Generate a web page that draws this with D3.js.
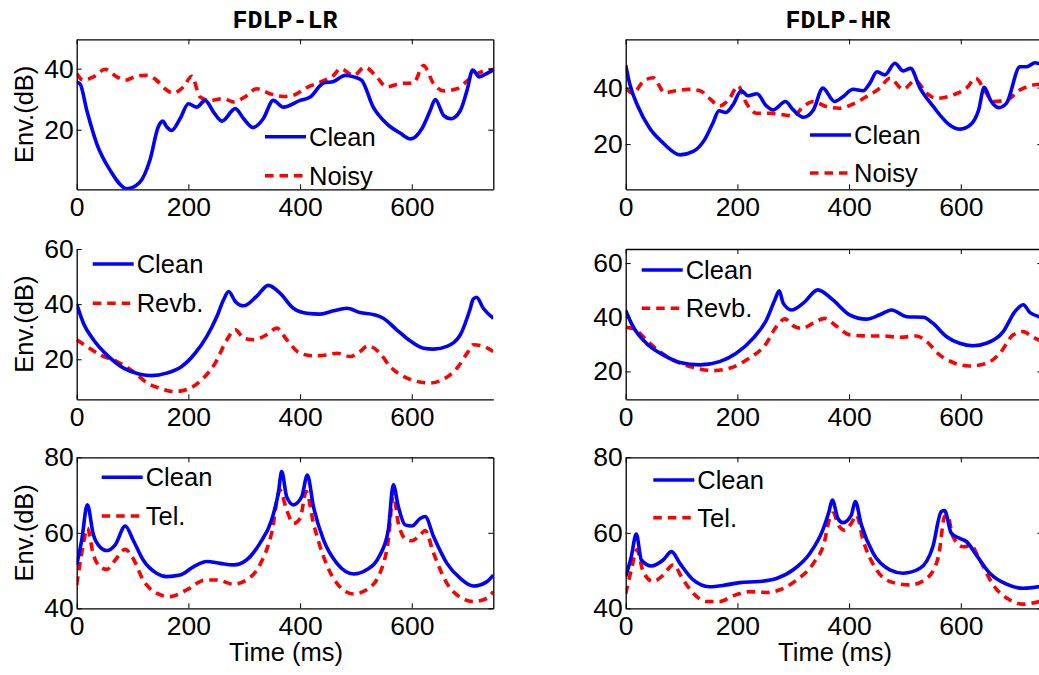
<!DOCTYPE html>
<html lang="en">
<head>
<meta charset="UTF-8">
<title>FDLP envelopes</title>
<style>
  body { margin: 0; background: #fff; }
  svg { display: block; }
  text { font-family: Arial, "Liberation Sans", sans-serif; font-size: 25.5px; fill: #000; }
  text.title { font-family: "Courier New", "Liberation Mono", monospace; font-weight: bold; font-size: 25px; }
</style>
</head>
<body>
<svg id="chart" width="1039" height="675"></svg>
<script src="https://cdn.jsdelivr.net/npm/d3@7"></script>
<script>
// ---- data: [time (ms), envelope (dB)] ----
const xTicks = [0, 200, 400, 600];
const seriesNames = ["Clean", "Noisy", "Revb.", "Tel."];

const lrNoiseClean = [[0,35.6],[6,35],[18,26.4],[36,15.4],[60,6.7],[90,0.7],[113,2.8],[131,10],[146,20.9],[154,22.8],[161,21],[170,19.8],[185,23.6],[200,28.5],[215,27.4],[230,29.6],[245,25.8],[260,22.8],[284,26.9],[299,23.6],[316,20.7],[334,23.6],[352,29.6],[370,27.4],[400,29.6],[418,30.7],[442,35.3],[460,35.8],[481,37.8],[496,37.3],[510,36.2],[531,27.4],[555,22],[579,18.9],[598,17],[618,20.3],[633,26.3],[642,29.9],[657,24.7],[670,23.6],[687,26.3],[699,32.9],[709,39.5],[721,37.3],[734,38.4],[746,39.5]];
const lrNoiseNoisy = [[0,38.4],[12,36.2],[30,37.3],[51,39.8],[72,37.3],[87,36.2],[107,37.5],[125,37.8],[143,36.2],[158,33.4],[173,32],[191,34],[206,37.5],[221,30.7],[239,29.6],[263,30.2],[281,29.1],[301,30.7],[322,33.4],[346,31.8],[370,30.9],[388,31.3],[412,33.8],[436,35.6],[460,37.8],[472,40],[496,37.8],[516,40.5],[537,37.3],[555,34],[579,35.1],[603,35.3],[621,41],[639,35.1],[657,32.7],[681,33.4],[704,36.7],[728,39.2],[746,39.7]];

const hrNoiseClean = [[0,48],[7,41.5],[22,33.3],[43,25.6],[67,20.4],[97,16.2],[121,17.4],[141,21.5],[156,27.4],[167,31.8],[179,31.2],[192,33.9],[207,38.9],[219,37.1],[235,37.8],[252,33.5],[264,32.1],[286,35.1],[300,32.1],[318,29.5],[336,32.1],[353,39.8],[374,35.1],[389,36.8],[407,39.4],[425,38.9],[437,41.5],[450,45.6],[464,44.5],[482,48.6],[497,45.9],[510,46.8],[527,39.8],[550,33.5],[580,26.8],[599,25.3],[617,26.8],[632,32.1],[642,40.1],[653,35.6],[668,32.9],[682,34.5],[706,47.4],[718,47.4],[733,48.8],[746,48]];
const hrNoiseNoisy = [[0,39.8],[13,38],[31,42.1],[49,43.5],[70,38.2],[91,38.9],[112,39.4],[133,38.9],[150,36.2],[168,33.5],[186,36.2],[201,40.6],[216,34.5],[234,30.9],[258,30.9],[282,30.4],[300,30],[318,33.3],[336,35.1],[359,33.3],[383,32.7],[407,34.2],[431,36.8],[455,39.8],[473,43.3],[497,39.4],[518,42.5],[539,38],[556,36.2],[586,37.4],[610,39.8],[627,43.3],[643,38.9],[658,35.1],[682,35.6],[706,39.2],[730,40.9],[746,41.3]];

const lrRevbClean = [[0,40],[12,33.1],[30,27.1],[54,21.6],[84,16.8],[113,14.6],[134,14.1],[161,15],[188,17.4],[212,22.2],[233,28.3],[251,35.5],[263,41.6],[272,44.6],[284,41],[299,39.4],[322,42.8],[343,46.8],[364,44],[388,38.5],[412,36.7],[436,36.4],[460,37.6],[484,38.5],[507,37],[534,36.1],[549,34.9],[573,30.7],[597,26.7],[621,24],[639,23.7],[663,24.7],[687,28.9],[704,37.9],[710,41.8],[716,42.5],[728,38.5],[746,34.9]];
const lrRevbRevb = [[0,27.1],[18,24.7],[42,21.6],[72,19.2],[101,15.6],[125,11.6],[149,9.5],[176,8.3],[203,9.5],[227,13.2],[248,18.6],[269,27.1],[284,30.7],[299,27.7],[316,27.1],[340,28.9],[358,31.3],[376,27.1],[400,22.2],[424,21.3],[448,21.6],[466,22.2],[490,21],[507,22.8],[522,24.9],[543,22.2],[561,17.4],[585,13.8],[609,12],[633,11.4],[657,12.8],[681,16.8],[701,22.8],[710,25.3],[728,24.7],[746,22.8]];

const hrRevbClean = [[0,42.5],[13,36.6],[37,30.4],[67,26.1],[97,23.3],[133,22.4],[168,23.6],[198,26.7],[228,32.2],[252,39],[267,46.4],[275,49.8],[282,45.2],[297,42.7],[318,45.2],[344,50.1],[371,46.4],[401,40.9],[431,39.3],[455,40.9],[476,42.7],[503,40.2],[533,40],[550,37.8],[574,32.9],[598,30.4],[622,29.5],[646,30.4],[676,34.7],[697,42.1],[712,44.6],[724,41.7],[746,40]];
const hrRevbRevb = [[0,36.3],[16,35.6],[37,31.6],[61,27.3],[91,23.6],[127,21.2],[156,20.3],[186,21.2],[216,24.2],[252,30.4],[270,36.6],[285,39.4],[300,36.8],[315,35.9],[336,37.8],[356,39.6],[377,36.8],[401,33.5],[431,33.1],[461,33.1],[491,32.6],[521,33.1],[539,31],[562,26.1],[586,23.3],[616,22],[646,23],[670,26.7],[694,33.5],[712,34.7],[727,32.9],[746,31]];

const lrTelClean = [[0,51.5],[9,58.1],[19,67.4],[30,59.4],[42,56.2],[54,55.3],[69,56.8],[87,61.8],[101,58.1],[119,52.8],[143,49.3],[161,48.4],[185,48.8],[209,51],[233,52.4],[257,51.9],[281,51.5],[304,52.8],[328,57.2],[349,63.4],[361,70.5],[367,76.2],[376,69.6],[388,67.4],[403,69.6],[413,75.3],[424,66.9],[442,58.1],[466,51.9],[496,49.1],[519,50.2],[543,54.1],[558,60.8],[567,72.7],[576,66.9],[588,62.1],[600,61.8],[615,63.8],[624,64.3],[639,59],[663,51.9],[687,47.9],[710,45.9],[734,47],[746,48.8]];
const lrTelTel = [[0,46.2],[11,56.3],[19,61.2],[30,54.1],[42,51],[54,50.3],[69,52.8],[87,55.6],[101,53.2],[119,47.5],[143,44],[167,43.1],[197,44.9],[230,47.5],[251,47.5],[281,46.4],[304,47.5],[328,51.5],[349,59.9],[364,71.3],[376,66],[388,62.5],[400,63.8],[411,70.9],[424,62.5],[442,53.7],[466,46.6],[496,43.8],[519,44.9],[543,49.3],[558,58.1],[567,70],[576,62.5],[588,58.5],[600,57.9],[615,59.4],[624,60.6],[639,54.6],[663,46.6],[687,42.9],[710,41.8],[734,42.6],[746,44.4]];

const hrTelClean = [[0,48.4],[10,53.7],[19,59.7],[28,52.8],[46,51.2],[67,52.8],[82,55],[97,51.9],[121,47.5],[150,45.7],[180,46.2],[204,46.8],[240,47.1],[270,47.9],[300,50.2],[330,54.6],[353,60.8],[364,65.6],[370,68.7],[380,63.8],[389,62.7],[404,64.7],[411,68.3],[422,62.1],[443,54.6],[473,50.2],[497,49.3],[527,50.6],[550,56.3],[565,65.6],[571,65.9],[583,59.9],[598,58.5],[610,57.7],[628,54.1],[652,49.3],[682,46.4],[712,45.3],[746,45.9]];
const hrTelTel = [[0,43.8],[10,50.2],[20,55.5],[31,49.8],[49,47.1],[67,48.8],[85,51.5],[103,47.5],[121,44],[144,41.8],[168,41.8],[192,43.3],[222,44.4],[252,44.2],[276,44.9],[306,47.5],[336,51.9],[356,57.7],[365,63.8],[371,65.2],[383,61.6],[392,60.7],[404,62.5],[413,64.7],[425,58.1],[449,50.2],[479,46.8],[509,46.2],[539,47.9],[560,53.7],[571,64.3],[576,64.7],[586,59],[604,56.3],[619,56.5],[634,52.8],[658,46.2],[688,42.2],[712,41.1],[746,42]];

// ---- layout ----
const svg = d3.select("#chart");
const plotW = 416.6, xMax = 746;
const colLeft = [76.7, 625.7];
const rows = [
  { top: 39.3, bottom: 189.3 },
  { top: 249, bottom: 399.3 },
  { top: 457.3, bottom: 608.3 }
];

const panels = [
  { row: 0, col: 0, title: "FDLP-LR", y: [0.5, 49.6], yTicks: [20, 40], box: true,
    clean: lrNoiseClean, other: lrNoiseNoisy, name: seriesNames[1], leg: [188.3, 97.4, 39] },
  { row: 0, col: 1, title: "FDLP-HR", y: [4, 57.1], yTicks: [20, 40], box: true,
    clean: hrNoiseClean, other: hrNoiseNoisy, name: seriesNames[1], leg: [184.3, 95.7, 38] },
  { row: 1, col: 0, y: [5.5, 60], yTicks: [20, 40, 60], box: false,
    clean: lrRevbClean, other: lrRevbRevb, name: seriesNames[2], leg: [16, 15, 39.3] },
  { row: 1, col: 1, y: [9.7, 65.2], yTicks: [20, 40, 60], box: true,
    clean: hrRevbClean, other: hrRevbRevb, name: seriesNames[2], leg: [16, 21, 38.3] },
  { row: 2, col: 0, y: [40, 80], yTicks: [40, 60, 80], box: true, xlabel: true,
    clean: lrTelClean, other: lrTelTel, name: seriesNames[3], leg: [25, 20, 38.7] },
  { row: 2, col: 1, y: [40, 80], yTicks: [40, 60, 80], box: true, xlabel: true,
    clean: hrTelClean, other: hrTelTel, name: seriesNames[3], leg: [27.6, 22.7, 37.7] }
];

panels.forEach((p, i) => {
  const left = colLeft[p.col], top = rows[p.row].top, h = rows[p.row].bottom - top;
  const x = d3.scaleLinear().domain([0, xMax]).range([0, plotW]);
  const y = d3.scaleLinear().domain(p.y).range([h, 0]);
  const g = svg.append("g").attr("transform", `translate(${left},${top})`);

  g.append("clipPath").attr("id", "clip" + i)
    .append("rect").attr("width", plotW).attr("height", h);

  const line = d3.line().x(d => x(d[0])).y(d => y(d[1])).curve(d3.curveMonotoneX);
  const plot = g.append("g").attr("clip-path", `url(#clip${i})`);
  plot.append("path").datum(p.other)
    .attr("fill", "none").attr("stroke", "#ff0000").attr("stroke-width", 3.6)
    .attr("stroke-dasharray", "8.5,6").attr("d", line);
  plot.append("path").datum(p.clean)
    .attr("fill", "none").attr("stroke", "#0000ff").attr("stroke-width", 3.6)
    .attr("stroke-linejoin", "round").attr("d", line);

  // axes, MATLAB style ticks pointing inward
  g.append("g").attr("transform", `translate(0,${h})`)
    .call(d3.axisBottom(x).tickValues(xTicks).tickSize(-5).tickPadding(8).tickSizeOuter(0));
  g.append("g")
    .call(d3.axisLeft(y).tickValues(p.yTicks).tickSize(-5).tickPadding(3).tickSizeOuter(0));
  if (p.box) {
    g.append("g").call(d3.axisTop(x).tickValues(xTicks).tickSize(-5).tickFormat("").tickSizeOuter(0));
    g.append("g").attr("transform", `translate(${plotW},0)`)
      .call(d3.axisRight(y).tickValues(p.yTicks).tickSize(-5).tickFormat("").tickSizeOuter(0));
  }
  g.selectAll(".domain").attr("stroke", "#000").attr("stroke-width", 1.3);
  g.selectAll(".tick line").attr("stroke", "#000").attr("stroke-width", 1);
  g.selectAll(".tick text").attr("font-size", null).attr("font-family", null)
    .style("font-size", "26.5px");

  // legend
  const [lx, ly, gap] = p.leg;
  [["Clean", "#0000ff", null], [p.name, "#ff0000", "8.5,6"]].forEach((e, k) => {
    const yy = ly + k * gap;
    g.append("line").attr("x1", lx).attr("x2", lx + 41).attr("y1", yy).attr("y2", yy)
      .attr("stroke", e[1]).attr("stroke-width", 3.6).attr("stroke-dasharray", e[2]);
    g.append("text").attr("x", lx + 44).attr("y", yy + 9).text(e[0]);
  });

  if (p.col === 0) {
    svg.append("text")
      .attr("transform", `translate(33,${top + h / 2}) rotate(-90)`)
      .attr("text-anchor", "middle").text("Env.(dB)");
  }
  if (p.title) {
    svg.append("text").attr("class", "title")
      .attr("x", left + plotW / 2 + (p.col ? 4 : 0)).attr("y", 28)
      .attr("text-anchor", "middle").text(p.title);
  }
  if (p.xlabel) {
    svg.append("text").attr("x", left + plotW / 2 + 1).attr("y", 661)
      .attr("text-anchor", "middle").text("Time (ms)");
  }
});
</script>
</body>
</html>
